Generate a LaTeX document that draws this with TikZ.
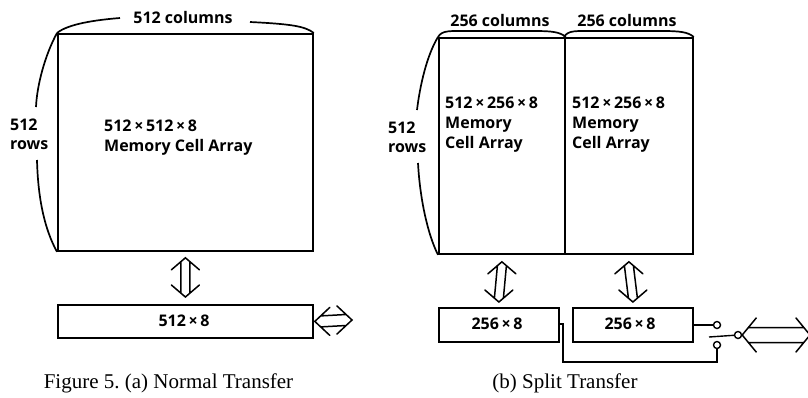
\documentclass[tikz,border=0pt]{standalone}
\usepackage{fontspec}
\setmainfont{Liberation Serif}
\newfontfamily\labfont{Open Sans}
\usetikzlibrary{calc}
\newcommand\vdarrow[2]{%
  \draw[darrow] let \p1=#1, \p2=#2 in
    (\x1-14pt,\y1-12pt) -- (\x1,\y1) -- (\x1+14pt,\y1-12pt)
    (\x2-14pt,\y2+12pt) -- (\x2,\y2) -- (\x2+14pt,\y2+12pt)
    (\x1-4.5pt,\y1-3.9pt) -- (\x2-4.5pt,\y2+3.9pt)
    (\x1+4.5pt,\y1-3.9pt) -- (\x2+4.5pt,\y2+3.9pt);}
% #1 left, #2 right, #3 half height, #4 head length, #5 shaft half, #6 offset
\newcommand\hdarrow[6]{%
  \draw[darrow] let \p1=#1, \p2=#2 in
    (\x1+#4,\y1+#3) -- (\x1,\y1) -- (\x1+#4,\y1-#3)
    (\x2-#4,\y2+#3) -- (\x2,\y2) -- (\x2-#4,\y2-#3)
    (\x1+#6,\y1+#5) -- (\x2-#6,\y2+#5)
    (\x1+#6,\y1-#5) -- (\x2-#6,\y2-#5);}
\begin{document}
\begin{tikzpicture}[x=1pt,y=-1pt,
  box/.style={draw, line width=1.8pt, inner sep=0, anchor=north west},
  lab/.style={font=\labfont\bfseries\fontsize{16}{18}\selectfont, inner sep=0},
  captext/.style={font=\fontsize{21}{24}\selectfont, inner sep=0, anchor=base},
  darrow/.style={line width=1.5pt, line cap=round},
  wire/.style={line width=1.4pt},
  term/.style={circle, draw, line width=1.4pt, minimum size=7pt, inner sep=0, fill=white},
  brace/.style={line width=1.7pt}]
\useasboundingbox (0,0) rectangle (808,397);
% ---------- (a) ----------
\node[box, minimum width=255pt, minimum height=217pt] (A) at (57,33) {};
\node[box, minimum width=255pt, minimum height=33pt] (bufA) at (57,304) {};
\node[lab, anchor=base] (colA) at (183,23) {512 columns};
\node[lab, anchor=base west] (rowA1) at (10,130) {512};
\node[lab, anchor=base west] (rowA2) at (10,149) {rows};
\node[lab, anchor=base west] (txtA1) at (104,131) {512\,×\,512\,×\,8};
\node[lab, anchor=base west] (txtA2) at (104,151) {Memory Cell Array};
\node[lab, anchor=base] (bufAt) at (184,326) {512\,×\,8};
\draw[brace] (A.north west) .. controls (68,24) and (95,20) .. (120,18);
\draw[brace] (250,22) .. controls (290,24) and (305,26) .. (A.north east);
\draw[brace] (A.north west) .. controls (45,55) and (37,85) .. (36,107);
\draw[brace] (37,160) .. controls (38,200) and (45,230) .. (A.south west);
\vdarrow{($(A.south)+(0,6)$)}{($(bufA.north)+(0,-7)$)}
\coordinate (ioA) at (352,320);
\hdarrow{($(bufA.east)+(1,0)$)}{(ioA)}{14pt}{15pt}{5.5pt}{5.9pt}
\node[captext] (capA) at (168.5,388) {Figure 5.\ (a) Normal Transfer};
% ---------- (b) ----------
\node[box, minimum width=126pt, minimum height=216pt] (L) at (438,37) {};
\node[box, minimum width=128pt, minimum height=216pt] (R) at (564,37) {};
\node[box, minimum width=120pt, minimum height=34pt] (bl) at (438,307) {};
\node[box, minimum width=120pt, minimum height=34pt] (br) at (572,307) {};
\node[lab, anchor=base] (colL) at (500,26) {256 columns};
\node[lab, anchor=base] (colR) at (627,26) {256 columns};
\node[lab, anchor=base west] (rowB1) at (388,133) {512};
\node[lab, anchor=base west] (rowB2) at (388,152) {rows};
\node[lab, anchor=base west] (txtL1) at (445,108) {512\,×\,256\,×\,8};
\node[lab, anchor=base west] (txtL2) at (445,128) {Memory};
\node[lab, anchor=base west] (txtL3) at (445,148) {Cell Array};
\node[lab, anchor=base west] (txtR1) at (572,108) {512\,×\,256\,×\,8};
\node[lab, anchor=base west] (txtR2) at (572,128) {Memory};
\node[lab, anchor=base west] (txtR3) at (572,148) {Cell Array};
\node[lab, anchor=base] (blt) at (497,329) {256\,×\,8};
\node[lab, anchor=base] (brt) at (630,329) {256\,×\,8};
\draw[brace] (L.north west) .. controls (442,30) and (450,31) .. (470,31) -- (535,31) .. controls (552,31) and (560,32) .. (L.north east);
\draw[brace] (R.north west) .. controls (568,30) and (576,31) .. (596,31) -- (662,31) .. controls (680,31) and (688,32) .. (R.north east);
\draw[brace] (L.north west) .. controls (427,55) and (420,85) .. (417,110);
\draw[brace] (418,163) .. controls (420,200) and (428,235) .. (L.south west);
\vdarrow{($(L.south)+(0,7)$)}{($(bl.north)+(0,-5)$)}
\vdarrow{($(R.south)+(0,7)$)}{($(br.north)+(0,-5)$)}
% switch
\node[term] (t1) at (717,325) {};
\node[term] (t2) at (717,345) {};
\node[term] (tc) at (738,335) {};
\coordinate (bend1) at (563,324);
\coordinate (bend2) at (563,362);
\coordinate (bend3) at (717,362);
\coordinate (arm) at (709,337);
\draw[wire] (br.east |- t1) -- (t1);
\draw[wire] (bl.east |- bend1) -- (bend1) -- (bend2) -- (bend3) -- (t2);
\draw[wire] (arm) -- (tc);
\coordinate (ioB) at (810,335);
\hdarrow{(tc.east)}{(ioB)}{17pt}{14pt}{7.5pt}{6.2pt}
\node[captext] (capB) at (565,388) {(b) Split Transfer};
\end{tikzpicture}
\end{document}
